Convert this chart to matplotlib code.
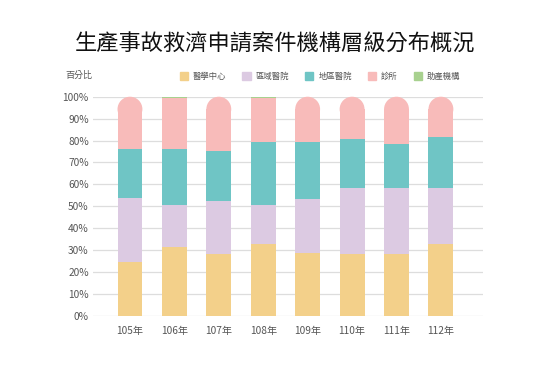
import matplotlib
matplotlib.use("Agg")
import matplotlib.pyplot as plt
from matplotlib.patches import Ellipse
import numpy as np

plt.rcParams['font.family'] = ['Noto Sans CJK TC', 'DejaVu Sans']

years = ['105年', '106年', '107年', '108年', '109年', '110年', '111年', '112年']
series_names = ['醫學中心', '區域醫院', '地區醫院', '診所', '助產機構']
medical_center = [24.8, 31.6, 28.3, 32.7, 28.9, 28.1, 28.4, 32.7]
regional = [29.2, 19.0, 24.0, 17.9, 24.4, 30.4, 30.1, 25.8]
district = [22.1, 25.5, 23.1, 28.7, 26.2, 22.2, 19.8, 23.3]
clinic = [23.9, 23.3, 24.6, 20.1, 20.5, 19.3, 21.7, 18.2]
midwife = [0.0, 0.6, 0.0, 0.6, 0.0, 0.0, 0.0, 0.0]
yticks = [0, 10, 20, 30, 40, 50, 60, 70, 80, 90, 100]

colors = ['#F3D08A', '#DCCAE2', '#6FC5C5', '#F8BBBA', '#A8D18F']

fig = plt.figure(figsize=(5.5, 3.8), dpi=100)
ax = fig.add_axes([0.169, 0.1684, 0.709, 0.5771])

x = np.arange(len(years))
width = 0.56
ax.set_xlim(-0.833, 7.945)
ax.set_ylim(0, 100)

# pixel scale for round caps
fig.canvas.draw()
p0 = ax.transData.transform((0, 0))
p1 = ax.transData.transform((1, 1))
px_x = p1[0] - p0[0]
px_y = p1[1] - p0[1]
r_px = width * px_x / 2
r_y = r_px / px_y

data = [medical_center, regional, district, clinic, midwife]
bottom = np.zeros(len(years))
for si, (vals, col) in enumerate(zip(data, colors)):
    vals = np.array(vals, dtype=float)
    for i in range(len(years)):
        v = vals[i]
        if v <= 0:
            continue
        is_top = (si == 3 and midwife[i] == 0)
        if is_top:
            h = v - r_y
            ax.bar(x[i], h, width, bottom=bottom[i], color=col, linewidth=0, zorder=3)
            ax.add_patch(Ellipse((x[i], bottom[i] + h), width, 2 * r_y,
                                 facecolor=col, edgecolor='none', zorder=3, clip_on=False))
        else:
            ax.bar(x[i], v, width, bottom=bottom[i], color=col, linewidth=0, zorder=3,
                   clip_on=False)
    bottom += vals

ax.set_yticks(yticks)
ax.set_yticklabels([f'{t}%' for t in yticks], fontsize=7.3, color='#555555')
ax.set_xticks(x)
ax.set_xticklabels(years, fontsize=7.3, color='#555555')
ax.tick_params(axis='both', length=0)
ax.tick_params(axis='x', pad=7)
ax.tick_params(axis='y', pad=3)
ax.grid(axis='y', color='#DDDDDD', linewidth=0.9, zorder=0)
for s in ax.spines.values():
    s.set_visible(False)

fig.text(0.5, 0.884, '生產事故救濟申請案件機構層級分布概況', ha='center', va='center',
         fontsize=16, color='#111111')
fig.text(0.118, 0.803, '百分比', ha='left', va='center', fontsize=6.5, color='#555555')

handles = [plt.Rectangle((0, 0), 1, 1, color=c) for c in colors]
fig.legend(handles, series_names, loc='center', bbox_to_anchor=(0.582, 0.799), ncol=5,
           frameon=False, fontsize=6, handlelength=1.0, handleheight=1.0,
           handletextpad=0.6, columnspacing=1.9, labelcolor='#555555')

fig.savefig('out.png', dpi=100, facecolor='white')
